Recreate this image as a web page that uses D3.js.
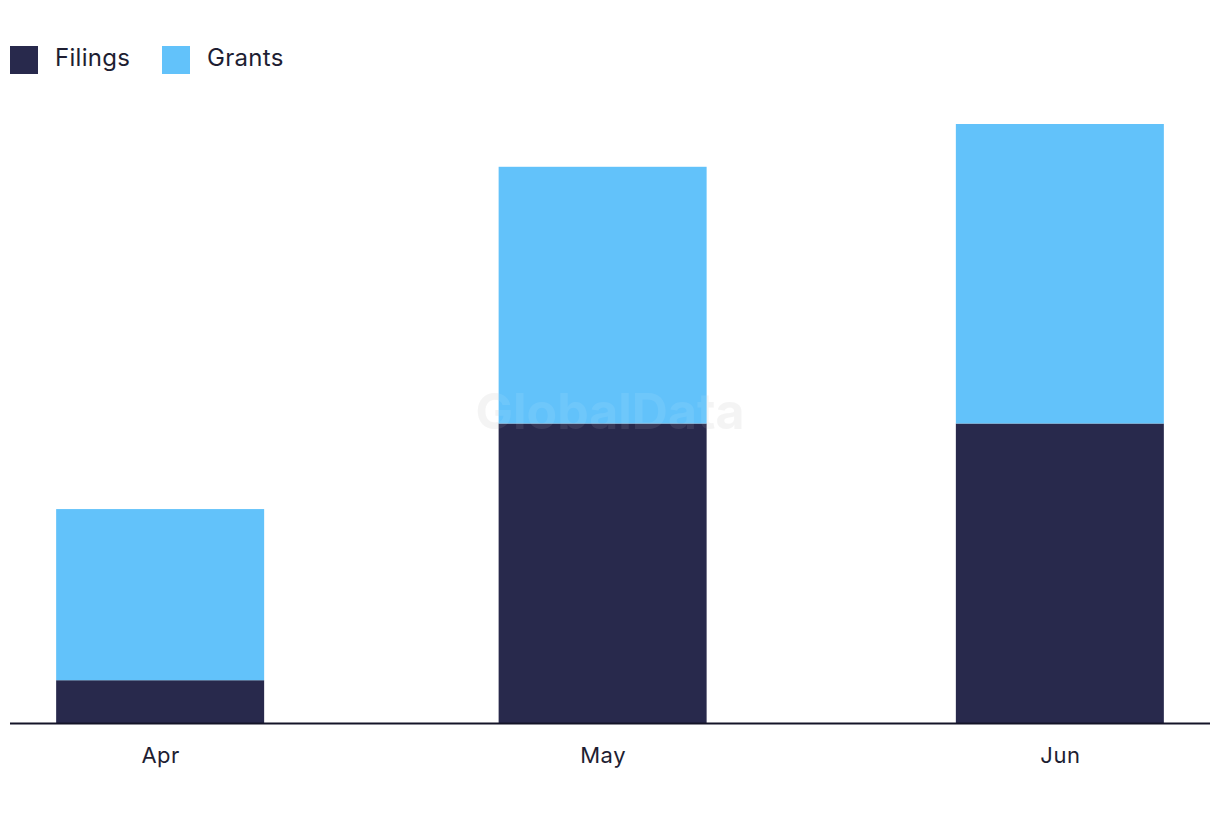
<!DOCTYPE html>
<html><head><meta charset="utf-8">
<script src="https://cdn.jsdelivr.net/npm/d3@7"></script>
<style>html,body{margin:0;padding:0;background:#fff;}svg{display:block;font-family:Inter,"Noto Sans",sans-serif;}</style>
</head><body>
<svg id="chart" width="1220" height="822"></svg>
<script>
const months = ["2023-04-01","2023-05-01","2023-06-01"];
const monthLabels = ["Apr","May","Jun"];
const filings = [1,7,7];
const grants = [4,6,7];
const seriesNames = ["Filings","Grants"];
const colors = ["#28294c","#62c2fa"];

const svg = d3.select("#chart");
const parse = d3.utcParse("%Y-%m-%d");
const dates = months.map(parse);
const pad = 10.18*864e5;
const x = d3.scaleUtc().domain([new Date(dates[0]-pad), new Date(+dates[2]+pad)]).range([10,1210]);
const y = d3.scaleLinear().domain([0,14]).range([723,124]);
const bw = 208;

const data = dates.map((d,i)=>({date:d,label:monthLabels[i],Filings:filings[i],Grants:grants[i]}));
const stack = d3.stack().keys(seriesNames)(data);

svg.append("text").attr("x",610).attr("y",429).attr("text-anchor","middle")
  .attr("font-size",50).attr("font-weight",700).attr("fill","#e8e8e8").attr("opacity",0.45).text("GlobalData");

stack.forEach((s,si)=>{
  svg.append("g").selectAll("rect").data(s).join("rect")
    .attr("x",d=>x(d.data.date)-bw/2).attr("width",bw)
    .attr("y",d=>y(d[1])).attr("height",d=>y(d[0])-y(d[1]))
    .attr("fill",colors[si]);
});
svg.append("text").attr("x",610).attr("y",429).attr("text-anchor","middle")
  .attr("font-size",50).attr("font-weight",700).attr("fill","#ffffff").attr("opacity",0.08).text("GlobalData");

const ax = svg.append("g").attr("transform","translate(0,723)")
  .call(d3.axisBottom(x).tickValues(dates).tickSize(0).tickFormat((d,i)=>monthLabels[i]));
ax.select(".domain").attr("stroke","#141428").attr("stroke-width",2).attr("d","M10,0.5H1210");
ax.selectAll("text").attr("font-size",22).attr("letter-spacing","0.5px").attr("fill","#1e1e32").attr("dy",0).attr("y",40).attr("font-family","Inter,sans-serif");

const lg = svg.append("g");
const lx = [10,162];
seriesNames.forEach((n,i)=>{
  lg.append("rect").attr("x",lx[i]).attr("y",46).attr("width",28).attr("height",28).attr("fill",colors[i]);
  lg.append("text").attr("x",lx[i]+45).attr("y",66).attr("font-size",24).attr("letter-spacing","0.3px").attr("fill","#1e1e32").text(n);
});
</script>
</body></html>
